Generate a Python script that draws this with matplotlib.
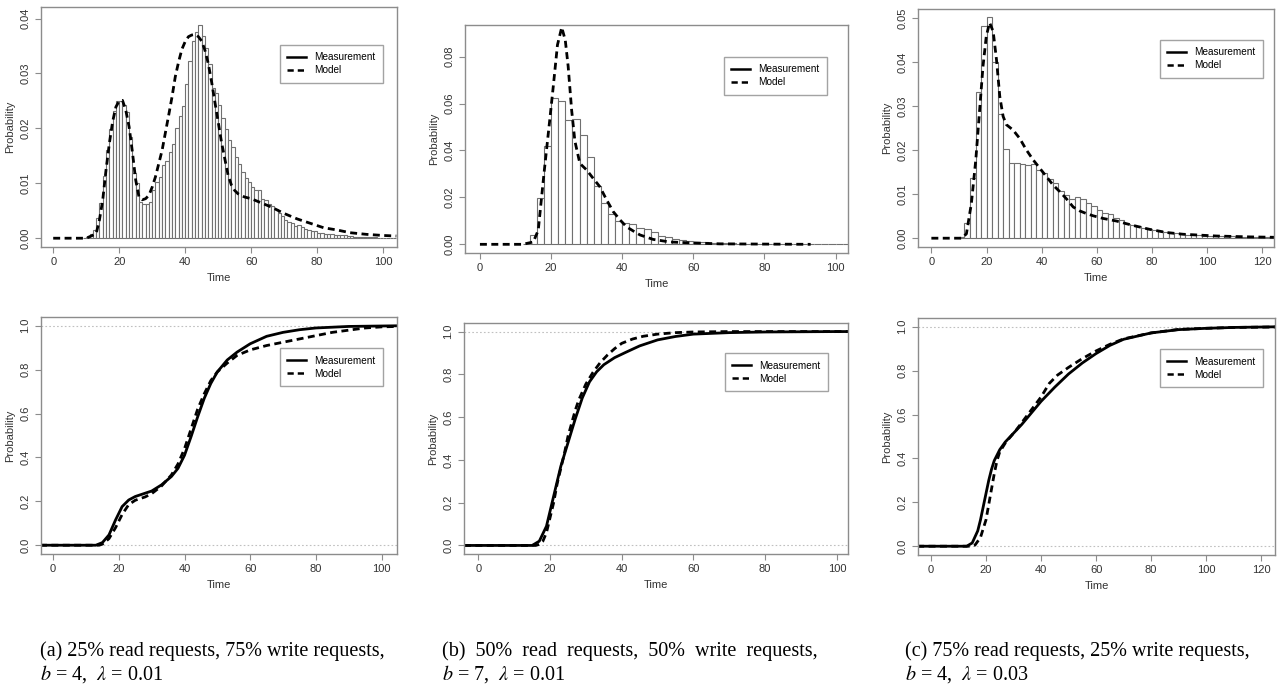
import numpy as np
import matplotlib
matplotlib.use("Agg")
import matplotlib.pyplot as plt
from matplotlib.lines import Line2D

plt.rcParams['font.family'] = ['Liberation Sans', 'DejaVu Sans']
plt.rcParams['mathtext.fontset'] = 'stix'

# ---------------- data ----------------
# (a) 25% read / 75% write, histogram with bin width 1 starting at 9
a_bin_start, a_bin_width = 9, 1
a_hist = [0.0001, 0.0003, 0.0008, 0.0015, 0.0036, 0.0064, 0.0113, 0.0160, 0.0198, 0.0231,
          0.0249, 0.0249, 0.0243, 0.0229, 0.0184, 0.0119, 0.0101, 0.0066, 0.0062, 0.0063,
          0.0066, 0.0087, 0.0103, 0.0112, 0.0134, 0.0140, 0.0157, 0.0171, 0.0200, 0.0223,
          0.0240, 0.0280, 0.0322, 0.0360, 0.0375, 0.0388, 0.0368, 0.0347, 0.0318, 0.0274,
          0.0265, 0.0243, 0.0218, 0.0198, 0.0178, 0.0166, 0.0148, 0.0135, 0.0121, 0.0109,
          0.0103, 0.0093, 0.0087, 0.0087, 0.0072, 0.0069, 0.0063, 0.0058, 0.0054, 0.0045,
          0.0040, 0.0034, 0.0030, 0.0028, 0.0023, 0.0024, 0.0021, 0.0017, 0.0015, 0.0013,
          0.0013, 0.0010, 0.0009, 0.0008, 0.0008, 0.0007, 0.0006, 0.0006, 0.0005, 0.0005,
          0.0004, 0.0004, 0.0003, 0.0003, 0.0003, 0.0002, 0.0002, 0.0002, 0.0002, 0.0001,
          0.0001, 0.0001, 0.0001, 0.0001, 0.0001]
a_model_x = [0, 10, 13, 14, 15, 16, 17, 18, 19, 20, 21, 22, 23, 24, 25, 26, 27, 28, 29, 30,
             31, 32, 33, 34, 35, 36, 37, 38, 39, 40, 41, 42, 43, 44, 45, 46, 47, 48, 49, 50,
             51, 52, 53, 54, 55, 56, 58, 60, 62, 64, 66, 68, 70, 74, 78, 82, 86, 90, 95, 100, 104]
a_model_y = [0.0, 0.0, 0.0008, 0.0033, 0.0069, 0.0124, 0.0172, 0.0212, 0.0239, 0.0250, 0.0251,
             0.0233, 0.0203, 0.0157, 0.0106, 0.0075, 0.0070, 0.0072, 0.0078, 0.0093, 0.0112,
             0.0136, 0.0160, 0.0192, 0.0224, 0.0257, 0.0294, 0.0321, 0.0344, 0.0358, 0.0367,
             0.0370, 0.0371, 0.0367, 0.0359, 0.0342, 0.0318, 0.0285, 0.0248, 0.0212, 0.0175,
             0.0145, 0.0115, 0.0097, 0.0087, 0.0081, 0.0075, 0.0072, 0.0067, 0.0062, 0.0057,
             0.0051, 0.0045, 0.0035, 0.0027, 0.0019, 0.0015, 0.0010, 0.0007, 0.0005, 0.0004]
a_cdf_meas_x = [-4, 13, 15, 17, 19, 21, 23, 25, 28, 30, 33, 36, 38, 40, 42, 44, 46, 48, 50,
                53, 56, 60, 65, 70, 75, 80, 90, 100, 105]
a_cdf_meas_y = [0.0, 0.0, 0.012, 0.047, 0.115, 0.176, 0.206, 0.222, 0.237, 0.247, 0.275, 0.313,
                0.350, 0.410, 0.495, 0.585, 0.669, 0.737, 0.790, 0.844, 0.880, 0.918, 0.952,
                0.970, 0.982, 0.990, 0.997, 0.999, 1.0]
a_cdf_model_x = [-4, 14, 15, 17, 19, 21, 23, 25, 28, 30, 33, 36, 38, 40, 42, 44, 46, 48, 50,
                 53, 56, 60, 65, 70, 75, 80, 85, 90, 95, 100, 105]
a_cdf_model_y = [0.0, 0.0, 0.005, 0.030, 0.080, 0.140, 0.185, 0.205, 0.220, 0.235, 0.270, 0.320,
                 0.370, 0.440, 0.530, 0.620, 0.690, 0.750, 0.790, 0.830, 0.865, 0.890, 0.910,
                 0.925, 0.940, 0.955, 0.970, 0.980, 0.990, 0.995, 0.997]

# (b) 50% read / 50% write, bin width 2 starting at 12
b_bin_start, b_bin_width = 12, 2
b_hist = [0.0003, 0.0040, 0.0196, 0.0420, 0.0622, 0.0611, 0.0530, 0.0534, 0.0466, 0.0374,
          0.0249, 0.0178, 0.0128, 0.0101, 0.0092, 0.0085, 0.0071, 0.0067, 0.0053, 0.0036,
          0.0030, 0.0021, 0.0017, 0.0014, 0.0011, 0.0009, 0.0007, 0.0006, 0.0005, 0.0004,
          0.0003, 0.0003, 0.0002, 0.0002, 0.0001, 0.0001, 0.0001, 0.0001, 0.0001, 0.0001,
          0.0001, 0.0, 0.0, 0.0, 0.0, 0.0, 0.0]
b_model_x = [0, 12, 15, 16.4, 18, 19.7, 20.6, 21.8, 23, 24, 24.8, 25.8, 26.7, 28.1, 30, 31.9,
             33.7, 35.6, 37.5, 39.4, 41.2, 43.1, 45, 48.7, 53.4, 58, 67.5, 80, 93]
b_model_y = [0.0, 0.0, 0.001, 0.006, 0.030, 0.054, 0.067, 0.085, 0.0925, 0.087, 0.076, 0.057,
             0.044, 0.0345, 0.0317, 0.028, 0.0246, 0.019, 0.0139, 0.0104, 0.0075, 0.0057,
             0.0040, 0.0021, 0.0010, 0.0007, 0.0002, 0.0001, 0.0]
b_cdf_meas_x = [-4, 15, 17, 19, 21, 23, 25, 27, 29, 31, 33, 35, 38, 41, 45, 50, 55, 60, 70,
                80, 100, 105]
b_cdf_meas_y = [0.0, 0.0, 0.020, 0.090, 0.230, 0.370, 0.480, 0.590, 0.690, 0.765, 0.812, 0.845,
                0.878, 0.902, 0.933, 0.961, 0.977, 0.988, 0.995, 0.998, 1.0, 1.0]
b_cdf_model_x = [-4, 16, 17, 18, 19, 20, 21, 22, 23, 24, 25, 26, 27, 28, 30, 32, 34, 36, 38,
                 40, 43, 46, 50, 55, 60, 70, 105]
b_cdf_model_y = [0.0, 0.0, 0.005, 0.020, 0.060, 0.130, 0.200, 0.290, 0.360, 0.430, 0.510, 0.570,
                 0.630, 0.680, 0.755, 0.810, 0.855, 0.890, 0.920, 0.945, 0.965, 0.978, 0.988,
                 0.995, 0.998, 1.0, 1.0]

# (c) 75% read / 25% write, bin width 2 starting at 10
c_bin_start, c_bin_width = 10, 2
c_hist = [0.0003, 0.0035, 0.0136, 0.0332, 0.0483, 0.0503, 0.0401, 0.0282, 0.0202, 0.0170,
          0.0172, 0.0169, 0.0166, 0.0169, 0.0155, 0.0149, 0.0134, 0.0125, 0.0107, 0.0098,
          0.0090, 0.0093, 0.0089, 0.0079, 0.0073, 0.0065, 0.0058, 0.0055, 0.0047, 0.0041,
          0.0033, 0.0030, 0.0027, 0.0024, 0.0021, 0.0018, 0.0016, 0.0014, 0.0012, 0.0011,
          0.0009, 0.0008, 0.0008, 0.0007, 0.0006, 0.0006, 0.0005, 0.0005, 0.0004, 0.0004,
          0.0003, 0.0003, 0.0003, 0.0002, 0.0002, 0.0002, 0.0002, 0.0001]
c_model_x = [0, 11, 12.7, 14.5, 16.1, 17.5, 18.7, 19.9, 21.1, 22.4, 23.6, 24.8, 26, 27.2, 29.6,
             32, 34.4, 36.9, 39.3, 41.7, 44.1, 46.5, 48.9, 51.4, 53.8, 56.2, 58.6, 62.2, 67.1,
             73.1, 79.2, 85.2, 91.2, 97.3, 103.3, 109.4, 115.4, 125]
c_model_y = [0.0, 0.0, 0.0010, 0.0079, 0.0178, 0.0292, 0.0390, 0.0459, 0.0490, 0.0470, 0.0406,
             0.0322, 0.0277, 0.0258, 0.0246, 0.0227, 0.0201, 0.0178, 0.0159, 0.0140, 0.0121,
             0.0106, 0.0090, 0.0071, 0.0062, 0.0056, 0.0051, 0.0045, 0.0039, 0.0029, 0.0020,
             0.0013, 0.0009, 0.0007, 0.0005, 0.0004, 0.0003, 0.0002]
c_cdf_meas_x = [-5, 13, 15, 17, 18, 19, 20, 21, 22, 23, 25, 27, 30, 33, 36, 40, 45, 50, 55,
                60, 65, 70, 80, 90, 100, 110, 126]
c_cdf_meas_y = [0.0, 0.0, 0.015, 0.070, 0.120, 0.180, 0.240, 0.300, 0.350, 0.390, 0.440, 0.475,
                0.515, 0.555, 0.600, 0.660, 0.725, 0.785, 0.835, 0.878, 0.915, 0.943, 0.972,
                0.987, 0.993, 0.997, 1.0]
c_cdf_model_x = [-5, 15, 16, 18, 20, 21, 22, 23, 24, 25, 27, 29, 31, 34, 37, 40, 43, 46, 50,
                 55, 60, 65, 70, 80, 90, 100, 110, 126]
c_cdf_model_y = [0.0, 0.0, 0.005, 0.040, 0.120, 0.190, 0.260, 0.330, 0.390, 0.430, 0.470, 0.500,
                 0.530, 0.580, 0.630, 0.680, 0.742, 0.780, 0.815, 0.855, 0.890, 0.920, 0.945,
                 0.972, 0.988, 0.993, 0.997, 0.999]

captions = [("(a) 25% read requests, 75% write requests,", r"$b$ = 4,  $\lambda$ = 0.01"),
            ("(b)  50%  read  requests,  50%  write  requests,", r"$b$ = 7,  $\lambda$ = 0.01"),
            ("(c) 75% read requests, 25% write requests,", r"$b$ = 4,  $\lambda$ = 0.03")]

# ---------------- layout ----------------
W, H = 1279, 685
fig = plt.figure(figsize=(W / 100, H / 100), dpi=100)
fig.patch.set_facecolor('white')

FRAME = '#8c8c8c'
TXT = '#333333'


def px_axes(left, top, right, bottom):
    return fig.add_axes([left / W, 1 - bottom / H, (right - left) / W, (bottom - top) / H])


def style(ax, xticks, yticks, yfmt):
    for s in ax.spines.values():
        s.set_color(FRAME)
        s.set_linewidth(1.0)
    ax.set_xticks(xticks)
    ax.set_yticks(yticks)
    ax.set_yticklabels([yfmt.format(v) for v in yticks], rotation=90, va='center')
    ax.tick_params(colors=FRAME, labelcolor=TXT, labelsize=8, length=4, width=0.8)
    ax.set_xlabel('Time', fontsize=8, color=TXT, labelpad=4)
    ax.set_ylabel('Probability', fontsize=8, color=TXT, labelpad=4)


def legend(ax, x, y):
    handles = [Line2D([], [], color='black', lw=1.8),
               Line2D([], [], color='black', lw=1.8, ls=(0, (2.5, 1.6)))]
    lg = ax.legend(handles, ['Measurement', 'Model'], loc='upper right', bbox_to_anchor=(x, y),
                   fontsize=7.2, frameon=True, fancybox=False, borderpad=0.75,
                   handlelength=1.9, handletextpad=0.8, labelspacing=0.3, borderaxespad=0)
    lg.get_frame().set_edgecolor(FRAME)
    lg.get_frame().set_linewidth(1.0)


def hist_panel(ax, start, width, heights, mx, my, xlim, ylim, xticks, yticks, lx, ly):
    lefts = start + width * np.arange(len(heights))
    ax.bar(lefts, heights, width=width, align='edge', color='white',
           edgecolor='#707070', linewidth=0.8)
    ax.plot(mx, my, color='black', lw=2.0, ls=(0, (2.5, 1.6)))
    ax.set_xlim(*xlim)
    ax.set_ylim(*ylim)
    style(ax, xticks, yticks, '{:.2f}')
    legend(ax, lx, ly)


def cdf_panel(ax, sx, sy, mx, my, xlim, xticks, lx, ly):
    ax.axhline(0, color='#c0c0c0', lw=0.8, ls=(0, (1.5, 2)))
    ax.axhline(1, color='#c0c0c0', lw=0.8, ls=(0, (1.5, 2)))
    ax.plot(sx, sy, color='black', lw=2.0)
    ax.plot(mx, my, color='black', lw=2.0, ls=(0, (2.5, 1.6)))
    ax.set_xlim(*xlim)
    ax.set_ylim(-0.04, 1.04)
    style(ax, xticks, [0.0, 0.2, 0.4, 0.6, 0.8, 1.0], '{:.1f}')
    legend(ax, lx, ly)


ax = px_axes(41, 7, 397, 247)
hist_panel(ax, a_bin_start, a_bin_width, a_hist, a_model_x, a_model_y, (-3.7, 104.2),
           (-0.0016, 0.0421), range(0, 101, 20), [0, 0.01, 0.02, 0.03, 0.04], 0.96, 0.842)
ax = px_axes(41, 317, 397, 554)
cdf_panel(ax, a_cdf_meas_x, a_cdf_meas_y, a_cdf_model_x, a_cdf_model_y, (-3.7, 104.7),
          range(0, 101, 20), 0.96, 0.869)

ax = px_axes(465, 25, 848, 253)
hist_panel(ax, b_bin_start, b_bin_width, b_hist, b_model_x, b_model_y, (-4.2, 103.5),
           (-0.0037, 0.0935), range(0, 101, 20), [0, 0.02, 0.04, 0.06, 0.08], 0.945, 0.86)
ax = px_axes(464, 323, 848, 554)
cdf_panel(ax, b_cdf_meas_x, b_cdf_meas_y, b_cdf_model_x, b_cdf_model_y, (-4.0, 103.1),
          range(0, 101, 20), 0.948, 0.87)

ax = px_axes(918, 9, 1274, 247)
hist_panel(ax, c_bin_start, c_bin_width, c_hist, c_model_x, c_model_y, (-4.85, 124.2),
           (-0.002, 0.0521), range(0, 121, 20), [0, 0.01, 0.02, 0.03, 0.04, 0.05], 0.969, 0.87)
ax = px_axes(918, 318, 1275, 555)
cdf_panel(ax, c_cdf_meas_x, c_cdf_meas_y, c_cdf_model_x, c_cdf_model_y, (-4.7, 125),
          range(0, 121, 20), 0.966, 0.869)

# captions
for (l1, l2), x in zip(captions, [40, 442, 905]):
    fig.text(x / W, 1 - 651 / H, l1, fontsize=14.5, family='Liberation Serif', va='center')
    fig.text(x / W, 1 - 674 / H, l2, fontsize=14.5, family='Liberation Serif', va='center')

fig.savefig('out.png', dpi=100)
